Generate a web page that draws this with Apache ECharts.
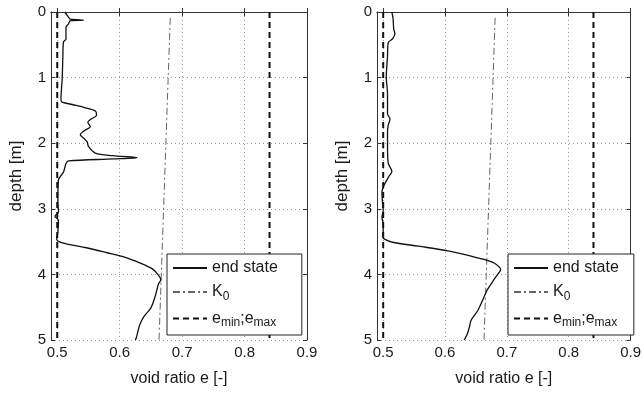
<!DOCTYPE html>
<html><head><meta charset="utf-8">
<script src="https://cdn.jsdelivr.net/npm/echarts@6/dist/echarts.min.js"></script>
<style>html,body{margin:0;padding:0;background:#fff}#c{width:644px;height:396px}</style>
</head><body><div id="c"></div>
<script>
// tick labels
const xTicks = [0.5, 0.6, 0.7, 0.8, 0.9];
const yTicks = [0, 1, 2, 3, 4, 5];
const seriesNames = ['end state', 'K0', 'emin;emax'];

// left panel: end state
const leftDepth = [0, 0.05, 0.09, 0.11, 0.125, 0.13, 0.14, 0.18, 0.23, 0.41, 0.46, 0.67, 1.0, 1.33, 1.37, 1.41, 1.46, 1.51, 1.57, 1.64, 1.68, 1.75, 1.80, 1.87, 1.92, 1.98, 2.05, 2.15, 2.19, 2.22, 2.24, 2.27, 2.31, 2.44, 2.56, 2.90, 3.05, 3.10, 3.12, 3.14, 3.18, 3.36, 3.45, 3.49, 3.53, 3.59, 3.67, 3.74, 3.82, 3.92, 4.00, 4.08, 4.15, 4.33, 4.51, 4.64, 4.77, 4.97, 5.0];
const leftValue = [0.512, 0.516, 0.519, 0.521, 0.542, 0.522, 0.520, 0.518, 0.514, 0.514, 0.510, 0.509, 0.508, 0.506, 0.507, 0.524, 0.545, 0.561, 0.563, 0.553, 0.549, 0.553, 0.545, 0.537, 0.542, 0.548, 0.550, 0.561, 0.588, 0.628, 0.590, 0.518, 0.514, 0.510, 0.502, 0.501, 0.502, 0.497, 0.4965, 0.499, 0.502, 0.501, 0.499, 0.501, 0.513, 0.545, 0.580, 0.609, 0.631, 0.653, 0.661, 0.666, 0.662, 0.657, 0.650, 0.639, 0.632, 0.6265, 0.625];

// right panel: end state
const rightDepth = [0, 0.10, 0.26, 0.33, 0.41, 0.47, 0.67, 1.0, 1.24, 1.55, 1.63, 1.73, 1.84, 2.04, 2.30, 2.43, 2.51, 2.63, 2.74, 2.92, 3.03, 3.13, 3.23, 3.44, 3.46, 3.51, 3.57, 3.64, 3.72, 3.78, 3.83, 3.93, 4.00, 4.11, 4.24, 4.39, 4.55, 4.70, 4.78, 4.91, 5.0];
const rightValue = [0.514, 0.516, 0.517, 0.519, 0.515, 0.508, 0.507, 0.505, 0.507, 0.507, 0.511, 0.508, 0.507, 0.507, 0.508, 0.514, 0.509, 0.502, 0.498, 0.499, 0.500, 0.498, 0.500, 0.500, 0.502, 0.515, 0.557, 0.605, 0.642, 0.666, 0.680, 0.690, 0.685, 0.677, 0.668, 0.661, 0.653, 0.642, 0.640, 0.636, 0.631];

// K0 line (both panels)
const k0Depth = [0.09, 5];
const k0Value = [0.681, 0.663];

// e_min ; e_max
const eMin = 0.5;
const eMax = 0.84;
const depthRange = [0, 5];

const zip = (xs, ys) => xs.map((x, i) => [x, ys[i]]);
const font = 'Liberation Sans, Arial, Helvetica, sans-serif';
const txt = '#1a1a1a';

const grids = [
  {left: 51, top: 12, width: 256, height: 328},
  {left: 377, top: 12, width: 257, height: 328}
];

function xAxes(g) {
  return [
    {type: 'value', gridIndex: g, min: 0.49, max: 0.9, position: 'bottom',
     name: 'void ratio e [-]', nameLocation: 'middle', nameGap: 31,
     nameTextStyle: {fontSize: 16, color: txt, fontFamily: font},
     axisLine: {show: true, lineStyle: {color: '#333', width: 1}},
     axisTick: {show: true, inside: true, length: 4, customValues: xTicks, lineStyle: {color: '#333'}},
     axisLabel: {customValues: xTicks, fontSize: 15, color: txt, fontFamily: font, margin: 5,
                 formatter: v => v.toFixed(1)},
     splitLine: {show: true, lineStyle: {type: [1, 3], color: '#9a9a9a', width: 1}}},
    {type: 'value', gridIndex: g, min: 0.49, max: 0.9, position: 'top',
     axisLine: {show: true, lineStyle: {color: '#333', width: 1}},
     axisTick: {show: true, inside: true, length: 4, customValues: xTicks, lineStyle: {color: '#333'}},
     axisLabel: {show: false}, splitLine: {show: false}}
  ];
}
function yAxes(g) {
  return [
    {type: 'value', gridIndex: g, min: 0, max: 5, interval: 1, inverse: true, position: 'left',
     name: 'depth [m]', nameLocation: 'middle', nameGap: 26,
     nameTextStyle: {fontSize: 17, color: txt, fontFamily: font},
     axisLine: {show: true, lineStyle: {color: '#333', width: 1}},
     axisTick: {show: true, inside: true, length: 4, lineStyle: {color: '#333'}},
     axisLabel: {fontSize: 15, color: txt, fontFamily: font, margin: 5},
     splitLine: {show: true, lineStyle: {type: [1, 3], color: '#9a9a9a', width: 1}}},
    {type: 'value', gridIndex: g, min: 0, max: 5, interval: 1, inverse: true, position: 'right',
     axisLine: {show: true, lineStyle: {color: '#333', width: 1}},
     axisTick: {show: true, inside: true, length: 4, lineStyle: {color: '#333'}},
     axisLabel: {show: false}, splitLine: {show: false}}
  ];
}

function panelSeries(g, depth, value) {
  const xi = g * 2, yi = g * 2;
  return [
    {name: seriesNames[0], type: 'line', xAxisIndex: xi, yAxisIndex: yi, data: zip(value, depth),
     symbol: 'none', smooth: 0.3, itemStyle: {color: '#111'}, lineStyle: {color: '#111', width: 1.3}, z: 5},
    {name: seriesNames[1], type: 'line', xAxisIndex: xi, yAxisIndex: yi, data: zip(k0Value, k0Depth),
     symbol: 'none', itemStyle: {color: '#666'}, lineStyle: {color: '#666', width: 1, type: [7, 3, 2, 3]}, z: 4},
    {name: seriesNames[2], type: 'line', xAxisIndex: xi, yAxisIndex: yi, data: zip([eMin, eMin], depthRange),
     symbol: 'none', itemStyle: {color: '#111'}, lineStyle: {color: '#111', width: 2, type: [6, 4]}, z: 3},
    {name: seriesNames[2], type: 'line', xAxisIndex: xi, yAxisIndex: yi, data: zip([eMax, eMax], depthRange),
     symbol: 'none', itemStyle: {color: '#111'}, lineStyle: {color: '#111', width: 2, type: [6, 4]}, z: 3}
  ];
}

function legend(left, padRight) {
  return {
    left: left, top: 254, orient: 'vertical',
    data: seriesNames,
    itemWidth: 34, itemHeight: 14, itemGap: 8,
    padding: [6, padRight, 6, 5],
    borderColor: '#222', borderWidth: 1, backgroundColor: '#fff',
    selectedMode: false,
    itemStyle: {opacity: 0},
    textStyle: {fontSize: 16, color: txt, fontFamily: font,
      rich: {
        b: {fontSize: 16, color: txt, fontFamily: font},
        s: {fontSize: 12, color: txt, fontFamily: font, padding: [9, 0, 0, 0]}
      }},
    formatter: n => n === 'K0' ? '{b|K}{s|0}' : (n === 'emin;emax' ? '{b|e}{s|min}{b|;e}{s|max}' : n)
  };
}

const chart = echarts.init(document.getElementById('c'), null, {renderer: 'canvas'});
chart.setOption({
  backgroundColor: '#fff',
  animation: false,
  grid: grids,
  xAxis: [...xAxes(0), ...xAxes(1)],
  yAxis: [...yAxes(0), ...yAxes(1)],
  legend: [legend(167, 24), legend(508, 15)],
  series: [...panelSeries(0, leftDepth, leftValue), ...panelSeries(1, rightDepth, rightValue)]
});
</script>
</body></html>
